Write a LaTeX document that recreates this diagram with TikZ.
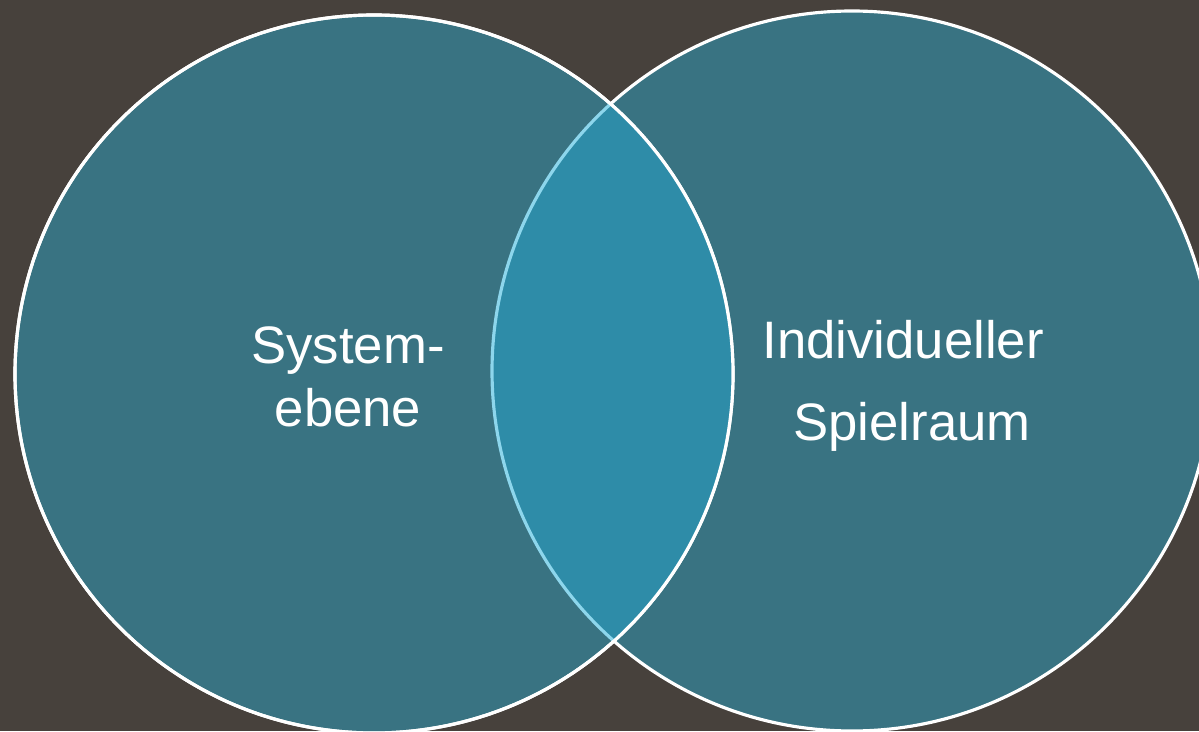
\documentclass[tikz,border=0pt]{standalone}
\usepackage{fontspec}
\setmainfont{Liberation Sans}
\usepackage{xcolor}
\usetikzlibrary{positioning}

\definecolor{bgdark}{HTML}{47413C}
\definecolor{setfill}{HTML}{397382}
\definecolor{lensfill}{HTML}{2E8CA8}
\definecolor{lensedge}{HTML}{8DD6EC}

\tikzset{
  setcircle/.style={fill=setfill},
  setedge/.style={draw=white, line width=1.8pt},
  label/.style={text=white, inner sep=0pt, anchor=base,
    font=\fontsize{30}{36}\selectfont}
}

\begin{document}
\begin{tikzpicture}[x=0.02cm, y=0.02cm]
		% Background
		\fill[bgdark] (0,0) rectangle (1199,731);
		\useasboundingbox (0,0) rectangle (1199,731);
		
		% Centres of the two sets
		\coordinate (L) at (374,357);
		\coordinate (R) at (852,360);
		
		% Right set, then left set on top
		\fill[setcircle] (R) circle (360);
		\draw[setedge] (R) circle (360);
		\fill[setcircle] (L) circle (359);
		\draw[setedge] (L) circle (359);
		
		% Overlap
		\begin{scope}
			\clip (R) circle (360);
			\fill[lensfill] (L) circle (359);
		\end{scope}
		\begin{scope}
			\clip (L) circle (359);
			\draw[lensedge, line width=1.8pt] (R) circle (360);
		\end{scope}
		\draw[setedge] (L) circle (359);
		
		% Labels
		\node[label] (sysA) at (348,368) {System-};
		\node[label] (sysB) at (348,305) {ebene};
		\node[label] (indA) at (903,373) {Individueller};
		\node[label] (indB) at (912,291) {Spielraum};
	\end{tikzpicture}
\end{document}
